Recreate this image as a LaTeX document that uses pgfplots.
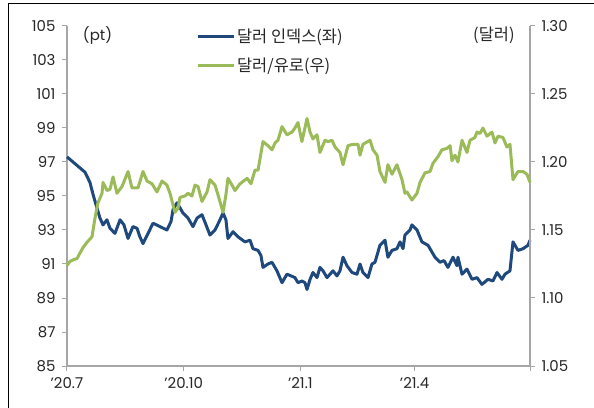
\documentclass[border=0pt]{standalone}
\usepackage{pgfplots}
\pgfplotsset{compat=1.18}
\usepackage{fontspec}
\setmainfont{Poppins}
\newfontfamily\kr{Noto Sans CJK KR}
\definecolor{dblue}{HTML}{1F497D}
\definecolor{lgreen}{HTML}{9BBB59}
\definecolor{axgray}{HTML}{A6A6A6}
\begin{document}
\begin{tikzpicture}
\useasboundingbox (-67bp,-42bp) rectangle (527bp,366bp);
\draw[black, line width=0.9bp] (-59bp,-42bp) -- (-59bp,363bp) -- (527bp,363bp);
\pgfplotsset{
 base/.style={scale only axis, width=463bp, height=340bp, at={(0,0)}, anchor=south west,
   xmin=0, xmax=365, clip=false,
   axis line style={axgray, line width=1.2bp}, tick style={axgray, line width=1bp},
   tick align=outside, major tick length=5bp,
   ticklabel style={font=\fontsize{15}{17}\selectfont, text=black!85},
   /pgf/number format/assume math mode=true,
 }
}
\begin{axis}[base, axis x line*=bottom, axis y line*=left, ymin=85, ymax=105,
  ytick={85,87,89,91,93,95,97,99,101,103,105},
  xtick={0,92,184,274,365}, xticklabels={’20.7,’20.10,’21.1,’21.4,{}},
  xticklabel style={yshift=-3bp}, yticklabel style={xshift=-3bp}]
\node[font=\fontsize{15}{17}\selectfont, text=black!85] at (axis description cs:0.066,0.972) {(pt)};
\addplot[dblue, line width=3bp, line join=round] table {
0 97.3
7.9 96.8
14.2 96.4
18.1 95.8
20.5 95.1
23.6 94.3
26.0 93.7
28.4 93.3
31.5 93.6
33.9 93.1
37.8 92.8
41.8 93.6
44.9 93.3
48.1 92.5
52.0 93.2
55.2 93.1
57.5 92.6
59.9 92.2
63.9 92.8
67.8 93.4
73.3 93.2
78.8 93.0
82.0 93.5
83.6 94.2
86.7 94.6
89.1 94.3
91.4 94.0
95.4 93.7
99.3 93.2
102.5 93.7
106.4 93.9
109.6 93.3
112.7 92.7
116.7 93.0
120.6 93.6
123.0 94.0
125.3 93.6
126.9 92.5
130.9 92.9
134.8 92.6
140.3 92.3
144.3 92.4
146.6 91.9
150.6 91.8
152.9 91.5
154.5 90.8
158.4 91.0
161.6 91.1
165.5 90.6
169.5 89.9
173.4 90.4
176.6 90.3
179.7 90.2
182.1 89.9
185.2 90.0
187.6 89.9
189.2 89.5
191.6 90.1
193.9 90.5
197.1 90.2
199.4 90.8
201.8 90.6
205.0 90.2
209.7 90.6
212.8 90.3
215.2 90.6
217.6 91.4
220.7 90.9
224.7 90.5
228.6 90.4
231.0 91.0
233.3 90.5
237.3 90.2
240.4 91.0
242.8 91.1
246.7 92.1
250.7 92.4
253.0 91.4
256.2 91.8
260.1 91.9
262.5 92.3
264.9 91.9
266.4 92.7
270.4 93.0
271.9 93.3
275.9 93.0
279.8 92.3
284.6 92.1
290.1 91.4
294.0 91.1
297.2 91.2
300.3 90.8
304.3 91.4
307.4 90.9
308.2 91.4
311.4 90.4
315.3 90.7
319.3 90.1
323.2 90.2
327.1 89.8
331.9 90.1
335.8 90.0
339.0 90.5
342.9 90.1
345.3 90.4
349.2 90.6
351.6 92.3
355.5 91.8
359.5 91.9
363.4 92.1
365.0 92.4
};
\end{axis}
\begin{axis}[base, axis x line=none, axis y line*=right, ymin=1.05, ymax=1.30,
  ytick={1.05,1.1,1.15,1.2,1.25,1.3},
  yticklabel style={xshift=3bp, /pgf/number format/.cd, fixed, fixed zerofill, precision=2},
  legend style={at={(0.272,1.005)}, anchor=north west, draw=none, fill=none,
    font=\kr\fontsize{16.5}{18}\selectfont, row sep=10bp, text=black!85},
  legend cell align=left,
  legend image code/.code={\draw[#1] (0bp,0bp) -- (36bp,0bp);}]
\node[font=\kr\fontsize{16.5}{18}\selectfont, text=black!85] at (axis description cs:0.922,0.972) {(달러)};
\addlegendimage{dblue, line width=3bp}
\addlegendentry{달러 인덱스(좌)}
\addplot[lgreen, line width=3bp, line join=round] table {
0 1.124
2.4 1.127
4.7 1.128
7.9 1.129
10.2 1.133
12.6 1.137
15.8 1.141
19.7 1.145
22.1 1.159
24.4 1.170
27.6 1.177
28.4 1.185
31.5 1.179
33.9 1.180
36.3 1.189
39.4 1.177
43.4 1.182
48.1 1.193
51.2 1.181
56.0 1.181
59.9 1.193
63.1 1.186
67.0 1.184
70.9 1.178
74.9 1.186
78.8 1.183
81.2 1.177
85.1 1.163
87.5 1.166
89.1 1.174
93.0 1.175
95.4 1.177
98.5 1.175
100.9 1.183
103.3 1.182
106.4 1.171
110.4 1.178
112.7 1.187
116.7 1.183
119.0 1.176
123.0 1.163
125.3 1.176
126.9 1.188
130.1 1.183
132.4 1.179
136.4 1.184
142.0 1.188
145.0 1.184
148.2 1.194
150.6 1.194
154.5 1.215
158.4 1.212
161.6 1.209
164.0 1.214
166.3 1.216
169.5 1.226
173.4 1.220
177.4 1.222
179.7 1.225
182.1 1.229
185.2 1.215
189.2 1.232
191.6 1.222
193.9 1.217
197.1 1.220
199.4 1.207
203.4 1.216
205.8 1.215
208.9 1.216
211.3 1.211
215.2 1.207
217.6 1.198
221.5 1.212
225.4 1.213
229.4 1.213
231.0 1.205
233.3 1.213
238.9 1.216
241.2 1.209
244.4 1.205
246.7 1.193
250.7 1.185
253.0 1.198
256.2 1.191
260.1 1.198
264.1 1.187
266.4 1.177
268.0 1.178
271.9 1.172
275.9 1.177
278.3 1.185
282.2 1.192
286.2 1.193
288.5 1.199
292.5 1.204
295.6 1.209
299.6 1.210
302.0 1.212
303.5 1.201
305.9 1.205
308.2 1.200
311.4 1.216
315.3 1.207
317.7 1.216
321.6 1.218
323.2 1.222
325.6 1.221
327.9 1.225
331.1 1.219
335.0 1.222
337.4 1.214
339.8 1.219
343.7 1.218
346.8 1.211
349.2 1.213
351.6 1.187
355.5 1.193
359.5 1.193
362.6 1.191
365.0 1.185
};
\addlegendentry{달러/유로(우)}
\end{axis}
\end{tikzpicture}
\end{document}
